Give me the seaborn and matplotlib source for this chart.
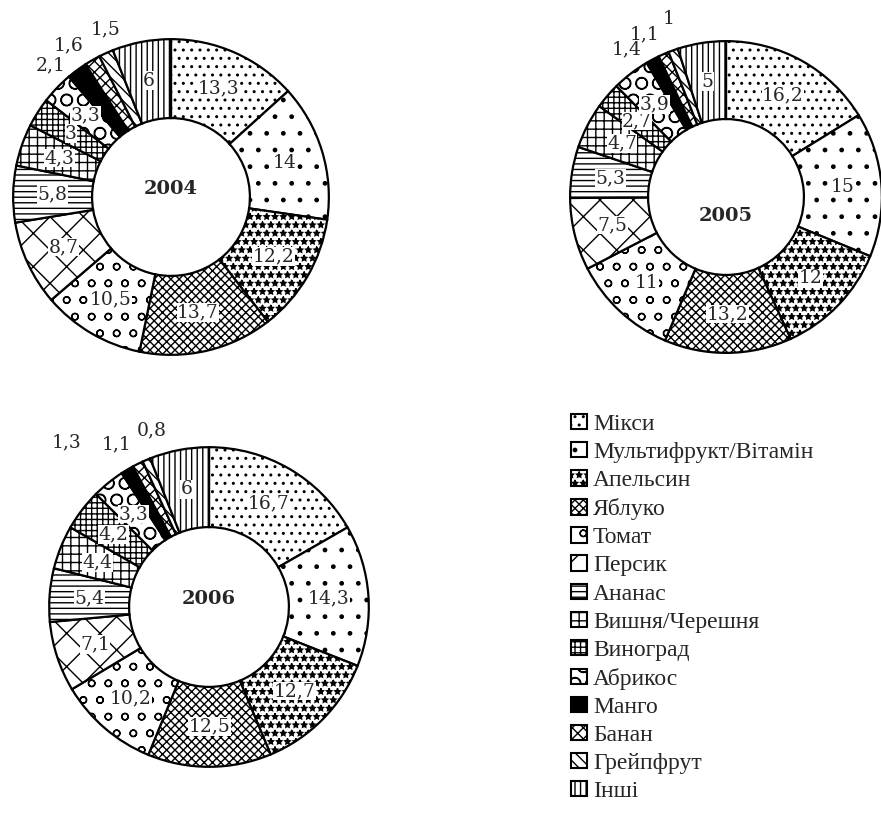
import matplotlib
matplotlib.use("Agg")
import matplotlib.pyplot as plt
import matplotlib.patches as mpatches
import numpy as np
import seaborn as sns

categories = ["Мікси", "Мультифрукт/Вітамін", "Апельсин", "Яблуко", "Томат",
              "Персик", "Ананас", "Вишня/Черешня", "Виноград", "Абрикос",
              "Манго", "Банан", "Грейпфрут", "Інші"]
years = ["2004", "2005", "2006"]
share_2004 = [13.3, 14, 12.2, 13.7, 10.5, 8.7, 5.8, 4.3, 3, 3.3, 2.1, 1.6, 1.5, 6]
share_2005 = [16.2, 15, 12, 13.2, 11, 7.5, 5.3, 4.7, 2.7, 3.9, 1.4, 1.1, 1, 5]
share_2006 = [16.7, 14.3, 12.7, 12.5, 10.2, 7.1, 5.4, 4.4, 4.2, 3.3, 1.3, 1.1, 0.8, 6]

hatches = ["..", ".", "**", "xxxx", "o", "x", "---", "++", "+++", "O", "", "xxx", "\\\\\\", "|||"]
faces = ["white"] * 10 + ["black"] + ["white"] * 3

# axes placement in pixels: center x, center y, outer radius
layout = {"2004": (171, 197, 161), "2005": (726, 197, 159), "2006": (209, 607, 163)}
# where the small outside labels sit (angle nudge in degrees, radius)
outside_nudge = {"2004": [(6, 1.13), (4, 1.16), (-3, 1.14)],
                 "2005": [(6, 1.14), (3, 1.17), (-2, 1.2)],
                 "2006": [(10, 1.36), (3, 1.17), (-5, 1.16)]}

W, H = 881, 813


def fmt(v):
    s = f"{v:g}"
    return s.replace(".", ",")


def main():
    sns.set_style("white")
    plt.rcParams["hatch.linewidth"] = 1.0
    fig = plt.figure(figsize=(W / 100, H / 100), dpi=100)

    for year, shares in zip(years, [share_2004, share_2005, share_2006]):
        cx, cy, r = layout[year]
        ax = fig.add_axes([(cx - r) / W, 1 - (cy + r) / H, 2 * r / W, 2 * r / H])
        wedges, _ = ax.pie(shares, startangle=90, counterclock=False, radius=1,
                           colors=faces,
                           wedgeprops=dict(width=0.5, edgecolor="black", linewidth=1.6))
        for w, h in zip(wedges, hatches):
            w.set_hatch(h)
        ax.set_xlim(-1.02, 1.02)
        ax.set_ylim(-1.02, 1.02)
        ax.set_aspect("equal")
        ax.axis("off")

        cum = np.cumsum([0] + shares)
        total = cum[-1]
        small = 0
        for i, v in enumerate(shares):
            mid = 90 - 360 * (cum[i] + v / 2) / total
            if i in (10, 11, 12):
                da, rr = outside_nudge[year][small]
                small += 1
                a = np.deg2rad(mid + da)
                ax.text(rr * np.cos(a), rr * np.sin(a), fmt(v), ha="center", va="center",
                        fontsize=13.5, family="DejaVu Serif", clip_on=False)
            else:
                a = np.deg2rad(mid)
                rr = 0.75
                ax.text(rr * np.cos(a), rr * np.sin(a), fmt(v), ha="center", va="center",
                        fontsize=13.5, family="DejaVu Serif",
                        bbox=dict(facecolor="white", edgecolor="none", pad=0.3))
        ty = -0.12 if year == "2005" else 0.05
        ax.text(0, ty, year, ha="center", va="center", fontsize=14,
                family="DejaVu Serif", fontweight="bold")

    handles = [mpatches.Patch(facecolor=f, edgecolor="black", hatch=h, linewidth=1.5)
               for f, h in zip(faces, hatches)]
    fig.legend(handles, categories, loc="upper left",
               bbox_to_anchor=(571 / W, 1 - 414 / H), frameon=False,
               prop={"family": "Liberation Serif", "size": 17},
               handlelength=0.68, handleheight=0.62, handletextpad=0.25,
               labelspacing=0.3, borderaxespad=0, borderpad=0)

    fig.savefig("out.png", dpi=100, facecolor="white")


if __name__ == "__main__":
    main()
